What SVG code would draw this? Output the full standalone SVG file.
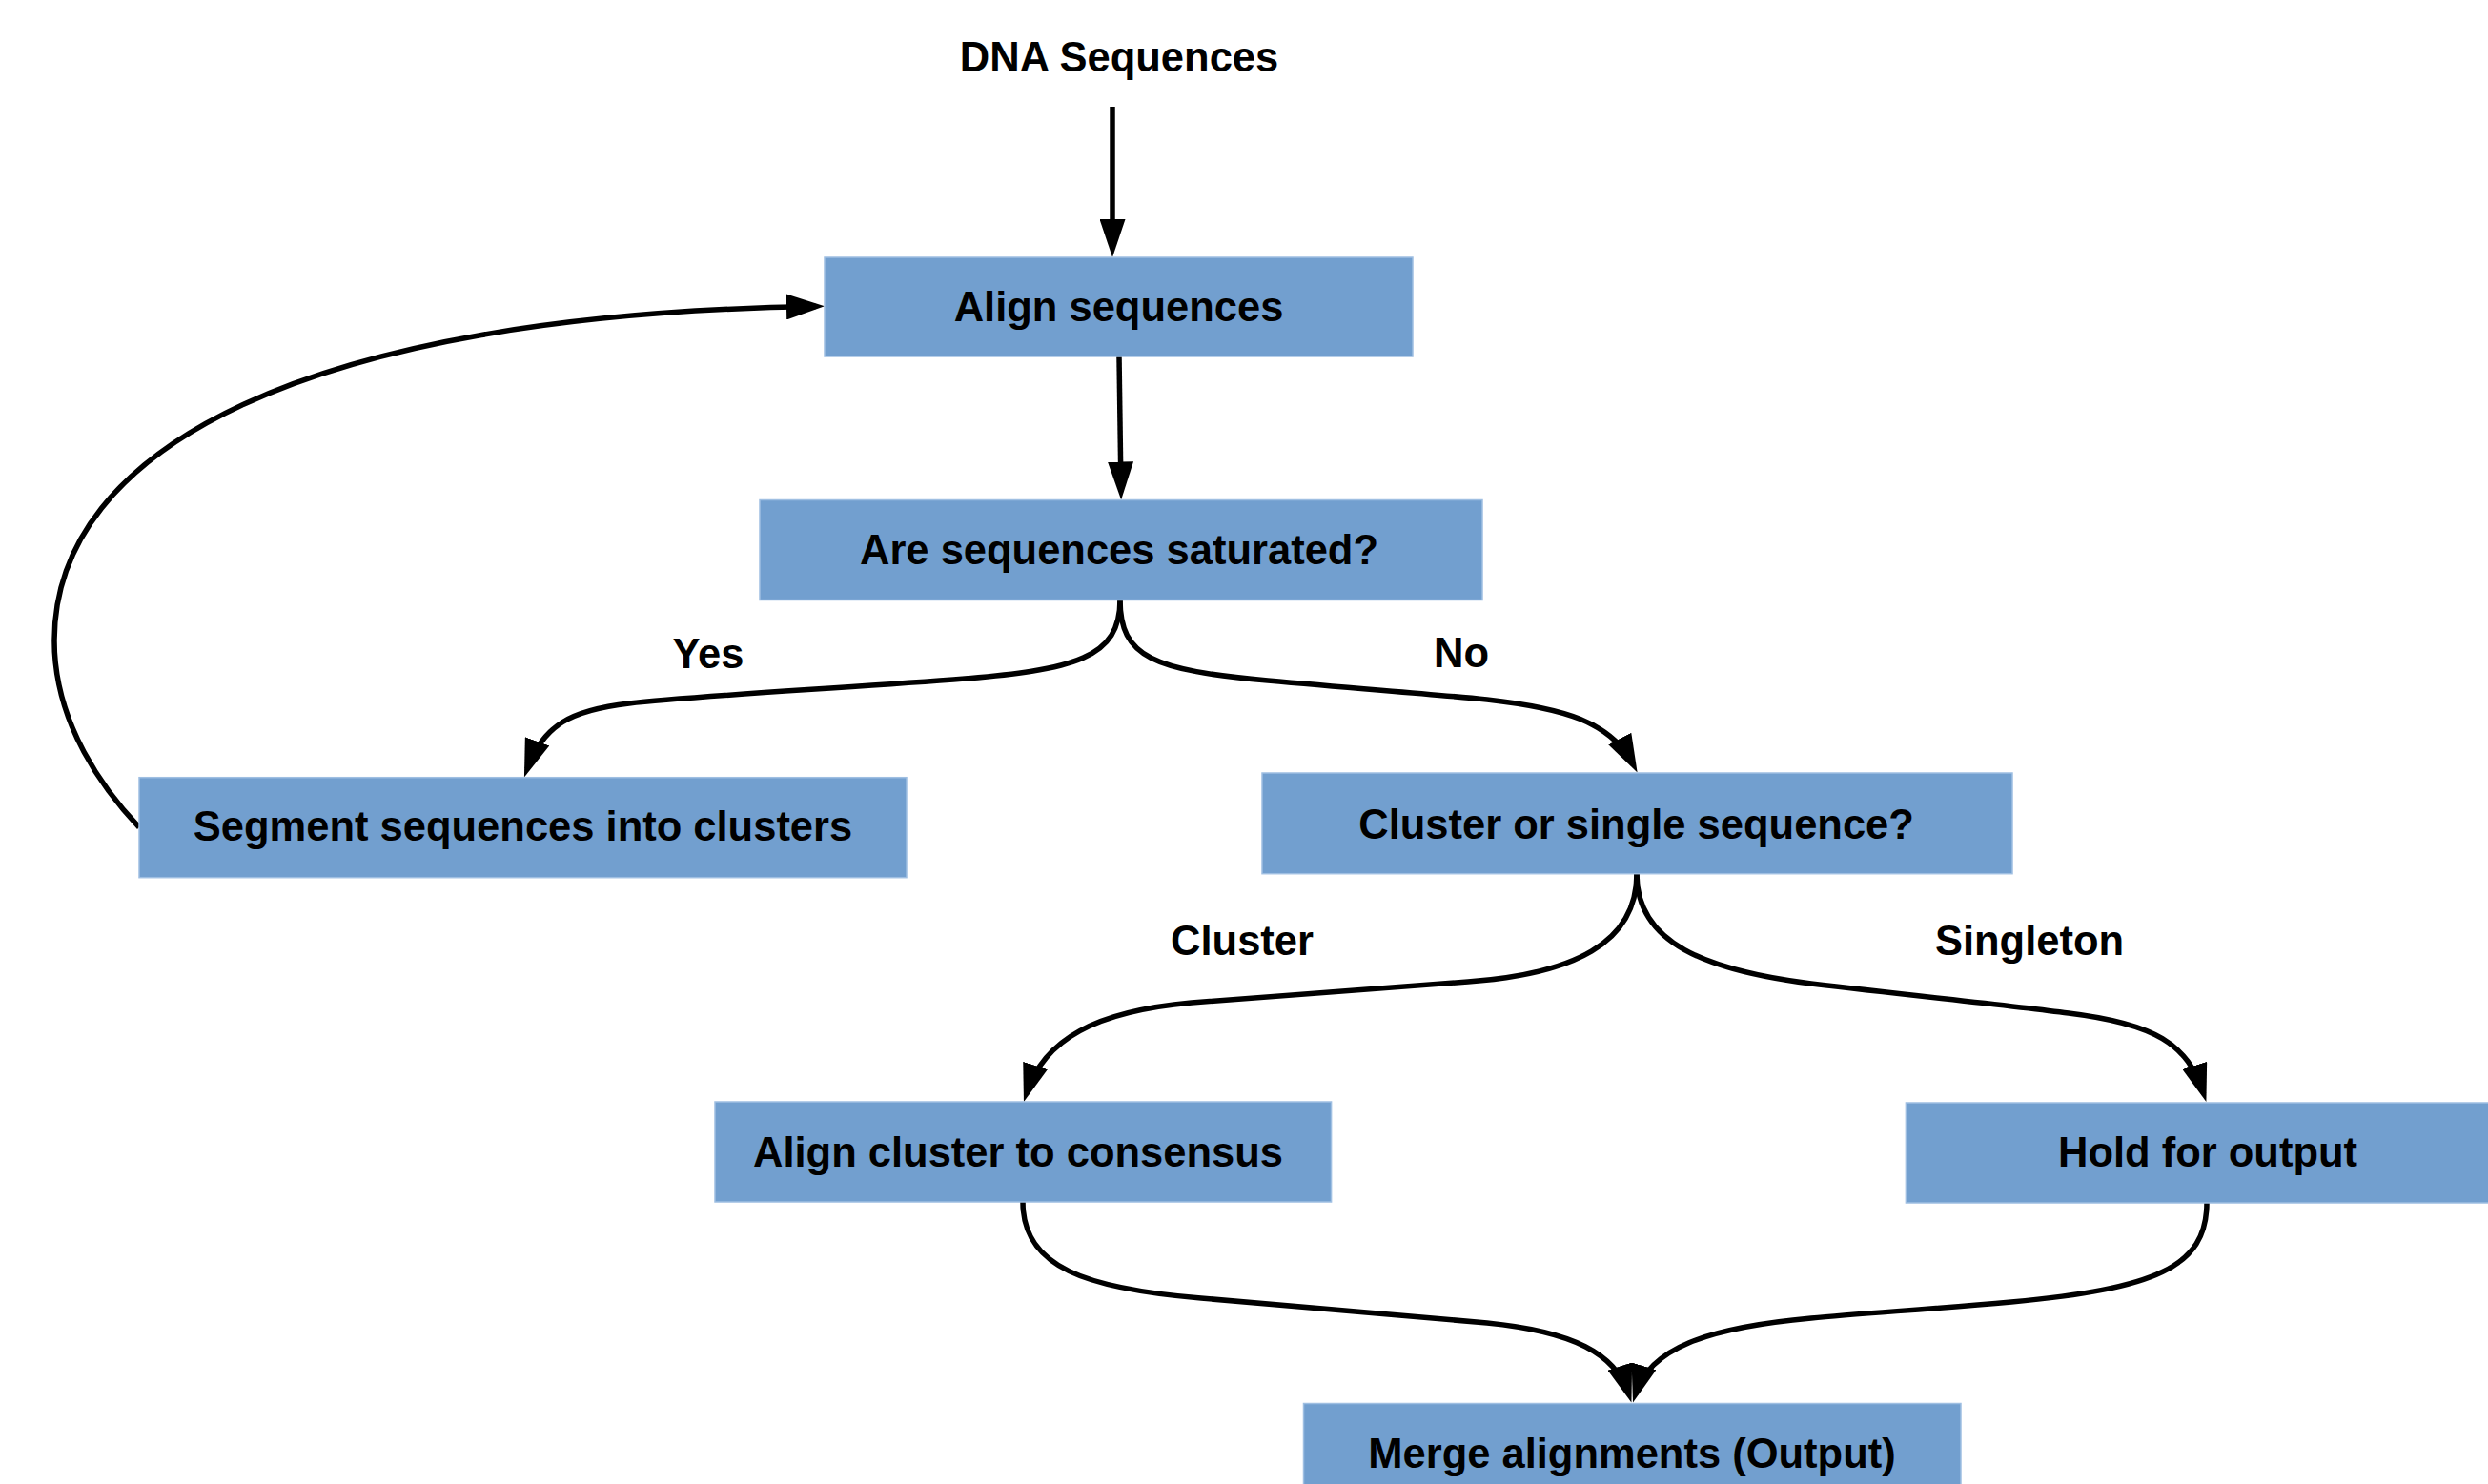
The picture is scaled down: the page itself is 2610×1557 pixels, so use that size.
<svg xmlns="http://www.w3.org/2000/svg" width="2610" height="1557" viewBox="0 0 2610 1557">
  <style>
    .box { fill: #729fcf; stroke: #9fbfe2; stroke-width: 1.5; }
    .txt { font-family: "Liberation Sans", Arial, sans-serif; font-weight: bold; font-size: 43.5px; fill: #000; text-anchor: middle; }
    .edge { fill: none; stroke: #000; stroke-width: 5.5; }
  </style>
  <defs>
    <marker id="arr" markerUnits="userSpaceOnUse" viewBox="0 0 40 27" markerWidth="40" markerHeight="27" refX="31" refY="13.5" orient="auto">
      <path d="M0,0 L40,13.5 L0,27 z" fill="#000"/>
    </marker>
  </defs>
  <rect width="2610" height="1557" fill="#fff"/>

  <g id="connectors">
    <path class="edge" marker-end="url(#arr)" d="M1167,112 L1167,261"/>
    <path class="edge" marker-end="url(#arr)" d="M1174,374 L1176,515.5"/>
    <path class="edge" marker-end="url(#arr)" d="M1175,629 C1175,690 1130,703 1000,713 C850,724 720,731 660,738 C600,745 570,760 553,807"/>
    <path class="edge" marker-end="url(#arr)" d="M1175,629 C1175,690 1210,703 1330,714 C1430,723 1500,728 1560,734 C1640,743 1690,757 1713.5,802.5"/>
    <path class="edge" marker-end="url(#arr)" d="M146,868 C110,830 57,760 57,672 C57,470 320,330 856,321.5"/>
    <path class="edge" marker-end="url(#arr)" d="M1717,917 C1717,990 1650,1022 1540,1030 C1420,1040 1320,1046 1250,1052 C1150,1061 1095,1090 1076.7,1147.5"/>
    <path class="edge" marker-end="url(#arr)" d="M1717,917 C1717,990 1790,1018 1900,1032 C2010,1045 2110,1055 2170,1063 C2260,1074 2295,1095 2311.7,1147.5"/>
    <path class="edge" marker-end="url(#arr)" d="M1073,1261 C1073,1330 1140,1352 1260,1362 C1380,1372 1490,1381 1560,1388 C1650,1397 1695,1420 1708.7,1463"/>
    <path class="edge" marker-end="url(#arr)" d="M2315,1262 C2315,1330 2260,1352 2110,1366 C2020,1374 1950,1378 1900,1383 C1790,1393 1730,1415 1715.6,1463"/>
  </g>

  <g id="labels">
    <text class="txt" x="1174" y="75">DNA Sequences</text>
    <text class="txt" x="743" y="701">Yes</text>
    <text class="txt" x="1533" y="700">No</text>
    <text class="txt" x="1303" y="1002">Cluster</text>
    <text class="txt" x="2129" y="1002">Singleton</text>
  </g>

  <g id="node-align">
    <rect class="box" x="865" y="270" width="617" height="104"/>
    <text class="txt" x="1173.5" y="337">Align sequences</text>
  </g>
  <g id="node-saturated">
    <rect class="box" x="797" y="524.5" width="758" height="105"/>
    <text class="txt" x="1174" y="592">Are sequences saturated?</text>
  </g>
  <g id="node-segment">
    <rect class="box" x="146" y="815.7" width="805" height="105"/>
    <text class="txt" x="548.5" y="881.5">Segment sequences into clusters</text>
  </g>
  <g id="node-cluster-or-single">
    <rect class="box" x="1324" y="811" width="787" height="105.7"/>
    <text class="txt" x="1716.6" y="879.5">Cluster or single sequence?</text>
  </g>
  <g id="node-align-cluster">
    <rect class="box" x="750" y="1156" width="646.6" height="105"/>
    <text class="txt" x="1068" y="1223.5">Align cluster to consensus</text>
  </g>
  <g id="node-hold">
    <rect class="box" x="1999.4" y="1157" width="634" height="105"/>
    <text class="txt" x="2316" y="1223.5">Hold for output</text>
  </g>
  <g id="node-merge">
    <rect class="box" x="1367.5" y="1472.5" width="689.5" height="105"/>
    <text class="txt" x="1712" y="1540">Merge alignments (Output)</text>
  </g>
</svg>
